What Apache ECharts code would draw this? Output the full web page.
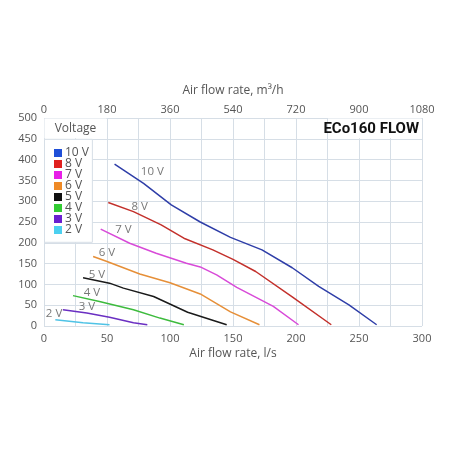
<!DOCTYPE html>
<html>
<head>
<meta charset="utf-8">
<script src="https://cdn.jsdelivr.net/npm/echarts@6/dist/echarts.min.js"></script>
<style>
  html, body { margin: 0; padding: 0; background: #fff; }
  #chart { width: 452px; height: 452px; }
</style>
</head>
<body>
<div id="chart"></div>
<script>
// 曲线数据：[风量 l/s, 压力 Pa]
const voltages = ['10 V', '8 V', '7 V', '6 V', '5 V', '4 V', '3 V', '2 V']
const lineColors = ['#2f3ea8', '#c3302b', '#d84ad8', '#e68f38', '#1a1a1a', '#3dbb3d', '#6a2fc2', '#4fc3e6']
const legendColors = ['#1f4fd8', '#e0201e', '#e81ee8', '#ef8a26', '#111111', '#33cc33', '#6a1fd0', '#4cd0f0']

const v10 = [[56, 389], [79, 343], [101, 291], [124, 250], [148, 213], [173, 183], [197, 140], [218, 95], [242, 51], [264, 3]]
const v8 = [[51, 297], [71, 275], [93, 243], [111, 211], [134, 183], [150, 160], [168, 131], [197, 70], [228, 3]]
const v7 = [[45, 233], [68, 199], [89, 175], [113, 151], [124, 142], [137, 123], [153, 93], [182, 47], [202, 3]]
const v6 = [[39, 167], [50, 155], [76, 125], [100, 104], [124, 77], [148, 34], [171, 3]]
const v5 = [[31, 116], [52, 103], [63, 91], [87, 71], [114, 33], [145, 3]]
const v4 = [[23, 73], [44, 59], [71, 39], [92, 19], [111, 3]]
const v3 = [[15, 39], [34, 31], [52, 21], [71, 8], [82, 3]]
const v2 = [[9, 15], [31, 8], [52, 3]]
const curves = [v10, v8, v7, v6, v5, v4, v3, v2]

// 曲线旁的标注位置（数据坐标）
const labelPos = [[86, 370], [76, 286], [63, 231], [50, 175], [42, 123], [38, 79], [34, 46], [8, 29]]

const xTicks = [0, 50, 100, 150, 200, 250, 300]
const yMax = 500
const topMax = 1080

const textColor = '#555'
const gridColor = '#d6dee6'
const font = 'Open Sans'

const chart = echarts.init(document.getElementById('chart'))

const series = curves.map((data, i) => ({
  name: voltages[i],
  type: 'line',
  data,
  showSymbol: false,
  smooth: false,
  lineStyle: { width: 1.5, color: lineColors[i] },
  itemStyle: { color: lineColors[i] },
  z: 3
}))

series.push({
  type: 'scatter',
  silent: true,
  symbolSize: 1,
  itemStyle: { color: 'transparent' },
  data: labelPos.map((p, i) => ({ value: p, name: voltages[i] })),
  label: {
    show: true,
    position: 'inside',
    formatter: p => p.name,
    color: textColor,
    fontSize: 11.5,
    fontFamily: font
  },
  z: 4
})

chart.setOption({
  animation: false,
  grid: { left: 44, right: 30, top: 118, bottom: 126 },
  legend: {
    orient: 'vertical',
    left: 54,
    top: 147,
    icon: 'rect',
    itemWidth: 8,
    itemHeight: 8,
    itemGap: -1,
    padding: 0,
    data: voltages.map((v, i) => ({ name: v, itemStyle: { color: legendColors[i] } })),
    textStyle: { color: textColor, fontSize: 12, lineHeight: 11, height: 11, fontFamily: font, padding: [0, 0, 0, -2] },
    z: 6
  },
  xAxis: [
    {
      type: 'value',
      position: 'bottom',
      min: 0,
      max: 300,
      interval: 25,
      name: 'Air flow rate, l/s',
      nameLocation: 'middle',
      nameGap: 22,
      nameTextStyle: { color: textColor, fontSize: 12, fontFamily: font },
      axisLine: { show: false },
      axisTick: { show: false },
      axisLabel: {
        color: textColor,
        fontSize: 11,
        fontFamily: font,
        margin: 7,
        formatter: v => (xTicks.includes(v) ? String(v) : '')
      },
      splitLine: { show: true, lineStyle: { color: gridColor, width: 1 } }
    },
    {
      type: 'value',
      position: 'top',
      min: 0,
      max: topMax,
      interval: 180,
      name: 'Air flow rate, m³/h',
      nameLocation: 'middle',
      nameGap: 21,
      nameTextStyle: { color: textColor, fontSize: 12, fontFamily: font },
      axisLine: { show: false },
      axisTick: { show: false },
      axisLabel: { color: textColor, fontSize: 11, fontFamily: font, margin: 3, formatter: v => String(v) },
      splitLine: { show: false }
    }
  ],
  yAxis: {
    type: 'value',
    min: 0,
    max: yMax,
    interval: 50,
    axisLine: { show: false },
    axisTick: { show: false },
    axisLabel: { color: textColor, fontSize: 11, fontFamily: font, margin: 7 },
    splitLine: { show: true, lineStyle: { color: gridColor, width: 1 } }
  },
  series
})

// 图例底框和标题框按数据坐标换算成像素再画
const px = (x, y) => chart.convertToPixel({ xAxisIndex: 0, yAxisIndex: 0 }, [x, y])
const hdrA = px(0, 500), hdrB = px(50, 450)
const legA = px(0, 450), legB = px(38, 200)
const ttlA = px(225, 500), ttlB = px(300, 450)

chart.setOption({
  graphic: [
    {
      type: 'rect', z: 1, silent: true,
      shape: { x: hdrA[0] + 0.5, y: hdrA[1] + 0.5, width: hdrB[0] - hdrA[0] - 1, height: hdrB[1] - hdrA[1] - 1 },
      style: { fill: '#fff' }
    },
    {
      type: 'rect', z: 1, silent: true,
      shape: { x: legA[0] + 0.5, y: legA[1] + 0.5, width: legB[0] - legA[0], height: legB[1] - legA[1] - 1 },
      style: { fill: '#fff', stroke: gridColor, lineWidth: 1 }
    },
    {
      type: 'text', z: 6, silent: true,
      x: (hdrA[0] + hdrB[0]) / 2,
      y: (hdrA[1] + hdrB[1]) / 2,
      style: { text: 'Voltage', fill: textColor, fontSize: 12, fontFamily: font, align: 'center', verticalAlign: 'middle' }
    },
    {
      type: 'rect', z: 1, silent: true,
      shape: { x: ttlA[0] + 0.5, y: ttlA[1] + 0.5, width: ttlB[0] - ttlA[0] - 1, height: ttlB[1] - ttlA[1] - 1 },
      style: { fill: '#fff' }
    },
    {
      type: 'text', z: 6, silent: true,
      x: ttlB[0] - 3,
      y: (ttlA[1] + ttlB[1]) / 2 + 1,
      style: { text: 'ECo160 FLOW', fill: '#111', fontSize: 15, fontWeight: 'bold', fontFamily: 'Roboto', align: 'right', verticalAlign: 'middle' }
    }
  ]
})
</script>
</body>
</html>
